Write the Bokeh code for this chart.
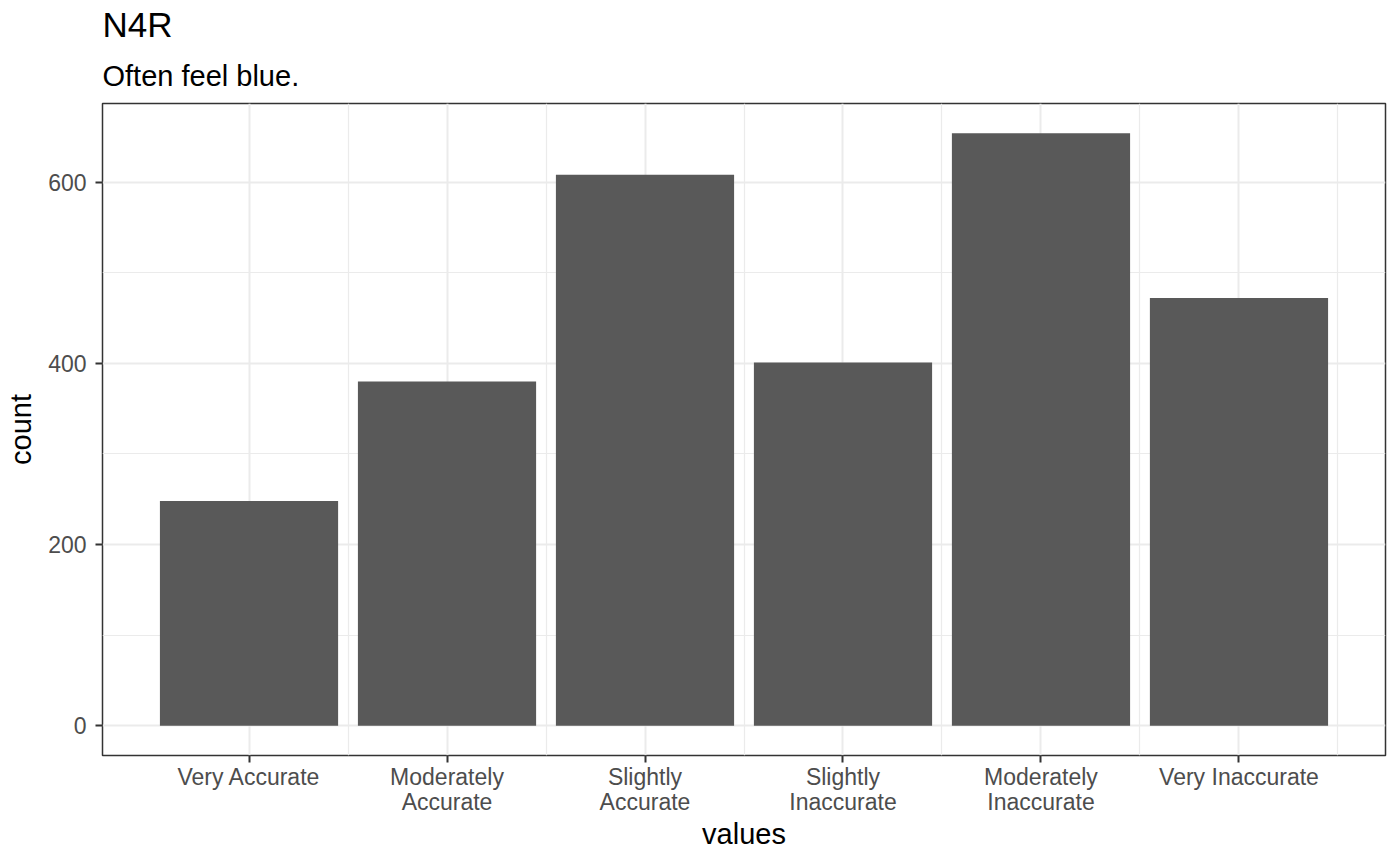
from bokeh.plotting import figure
from bokeh.models import Range1d, FixedTicker, Title
from bokeh.embed import file_html
from bokeh.resources import INLINE

title_text = "N4R"
subtitle_text = "Often feel blue."
categories = ["Very Accurate", "Moderately Accurate", "Slightly Accurate",
              "Slightly Inaccurate", "Moderately Inaccurate", "Very Inaccurate"]
tick_labels = ["Very Accurate", "Moderately\nAccurate", "Slightly\nAccurate",
               "Slightly\nInaccurate", "Moderately\nInaccurate", "Very Inaccurate"]
counts = [248, 380, 608, 401, 654, 472]
y_ticks = [0, 200, 400, 600]
y_minor = [100, 300, 500]

FONT = "Liberation Sans"
xpos = list(range(1, len(categories) + 1))
ymax = max(counts)

p = figure(frame_width=1283, frame_height=652, output_backend="svg", toolbar_location=None,
           x_range=Range1d(0.26, len(categories) + 0.74),
           y_range=Range1d(-0.05 * ymax, 1.05 * ymax),
           min_border_left=102, min_border_right=14, min_border_top=103, min_border_bottom=107)

p.vbar(x=xpos, top=counts, width=0.9, bottom=0, fill_color="#595959", line_color=None)

# titles: p.title is the outer one, the added one sits next to the frame
p.title.text = title_text
p.title.text_font = FONT
p.title.text_font_size = "35px"
p.title.text_font_style = "normal"
p.title.text_color = "black"
p.title.standoff = 5
p.add_layout(Title(text=subtitle_text, text_font=FONT, text_font_size="29px",
                   text_font_style="normal", text_color="black", standoff=23), "above")

p.background_fill_color = "white"
p.border_fill_color = "white"
p.outline_line_color = "#333333"
p.outline_line_width = 1.5

xt = FixedTicker(ticks=xpos, minor_ticks=[x + 0.5 for x in xpos])
yt = FixedTicker(ticks=y_ticks, minor_ticks=y_minor)
p.xaxis.ticker = xt
p.yaxis.ticker = yt
p.xgrid.ticker = xt
p.ygrid.ticker = yt
p.xaxis.major_label_overrides = {x: lab for x, lab in zip(xpos, tick_labels)}

for g in (p.xgrid, p.ygrid):
    g.grid_line_color = "#ebebeb"
    g.grid_line_width = 2
    g.minor_grid_line_color = "#ebebeb"
    g.minor_grid_line_width = 1.2

for ax in (p.xaxis, p.yaxis):
    ax.axis_line_color = None
    ax.major_tick_line_color = "#333333"
    ax.major_tick_line_width = 2
    ax.major_tick_out = 7
    ax.major_tick_in = 0
    ax.minor_tick_line_color = None
    ax.major_label_text_font = FONT
    ax.major_label_text_font_size = "23px"
    ax.major_label_text_color = "#4d4d4d"
    ax.major_label_text_line_height = 0.97
    ax.axis_label_text_font = FONT
    ax.axis_label_text_font_size = "29px"
    ax.axis_label_text_font_style = "normal"
    ax.axis_label_text_color = "black"

p.xaxis.axis_label = "values"
p.yaxis.axis_label = "count"
p.xaxis.major_label_standoff = 1
p.yaxis.major_label_standoff = 9
p.xaxis.axis_label_standoff = 0
p.yaxis.axis_label_standoff = 8

open("out.html", "w").write(file_html(p, INLINE))
